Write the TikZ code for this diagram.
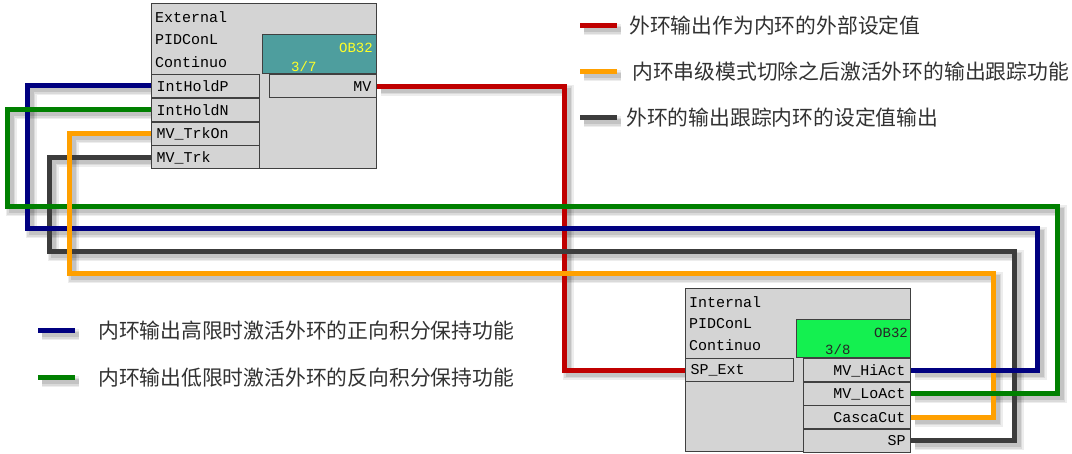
\documentclass[tikz,border=0pt]{standalone}
\usepackage{fontspec}
\newfontfamily\cjk{Noto Sans CJK SC}
\newfontfamily\monof{Liberation Mono}
\usetikzlibrary{calc}
\definecolor{boxgray}{RGB}{212,212,212}
\definecolor{frame}{RGB}{64,64,64}
\definecolor{teal1}{RGB}{78,158,158}
\definecolor{green1}{RGB}{20,240,80}
\definecolor{cred}{RGB}{192,0,0}
\definecolor{cblue}{RGB}{0,0,128}
\definecolor{cgreen}{RGB}{0,128,0}
\definecolor{corange}{RGB}{255,160,0}
\definecolor{cgrey}{RGB}{60,60,60}
\definecolor{ltext}{RGB}{50,50,50}
\definecolor{ylw}{RGB}{255,255,40}
\pgfdeclarelayer{background}
\pgfdeclarelayer{shadow}
\pgfsetlayers{shadow,background,main}
\begin{document}
\begin{tikzpicture}[x=1pt,y=-1pt,
  blk/.style={draw=frame,fill=boxgray,line width=1pt,inner sep=0pt},
  disp/.style={draw=frame,line width=1pt,inner sep=0pt,minimum width=114.5pt},
  port/.style={draw=frame,fill=boxgray,line width=1pt,inner xsep=5pt,inner ysep=0pt,
    minimum height=23pt,font=\monof\fontsize{15}{15}\selectfont,text=black},
  portL/.style={port,text width=98pt,align=left},
  portR/.style={port,text width=97.5pt,align=right},
  head/.style={anchor=west,inner sep=0pt,font=\monof\fontsize{15}{15}\selectfont,text=black},
  dtext/.style={inner sep=0pt,font=\monof\fontsize{14}{14}\selectfont},
  wire/.style={line width=5pt,line join=miter},
  shad/.style={draw=black,line join=miter,transform canvas={shift={(4,4)}},
    postaction={draw=black,opacity=0.07,line width=11pt},
    postaction={draw=black,opacity=0.08,line width=8pt},
    postaction={draw=black,opacity=0.10,line width=5pt},
    draw opacity=0, line width=1pt},
  legtext/.style={anchor=west,inner sep=0pt,font=\cjk\fontsize{20.8}{21}\selectfont,text=ltext}
]
\useasboundingbox (0,0) rectangle (1072,454);

% ---------- External block ----------
\node[blk,minimum width=225pt,minimum height=165pt] (ext) at (264,86.5) {};
\node[head] (exth1) at (155,17) {External};
\node[head] (exth2) at (155,40) {PIDConL};
\node[head] (exth3) at (155,62) {Continuo};
\node[disp,fill=teal1,minimum height=39pt] (extd) at (319.25,54.5) {};
\node[dtext,text=ylw,anchor=east] (extob) at (373,48) {OB32};
\node[dtext,text=ylw,anchor=west] (extn) at (291,66) {3/7};
\node[portL] (ihp) at (205.5,86) {IntHoldP};
\node[portL] (ihn) at (205.5,110) {IntHoldN};
\node[portL] (trkon) at (205.5,134) {MV\_TrkOn};
\node[portL] (trk) at (205.5,157.5) {MV\_Trk};
\node[portR] (mv) at (322.75,86.5) {MV};

% ---------- Internal block ----------
\node[blk,minimum width=225pt,minimum height=163pt] (int) at (798,370.5) {};
\node[head] (inth1) at (689,302) {Internal};
\node[head] (inth2) at (689,324) {PIDConL};
\node[head] (inth3) at (689,345) {Continuo};
\node[disp,fill=green1,minimum height=38pt] (intd) at (853.25,339) {};
\node[dtext,text=black!85,anchor=east] (intob) at (908,333) {OB32};
\node[dtext,text=black!85,anchor=west] (intn) at (825,349) {3/8};
\node[portL] (spext) at (739.5,370.5) {SP\_Ext};
\node[portR] (hi) at (856.75,370.5) {MV\_HiAct};
\node[portR] (lo) at (856.75,394) {MV\_LoAct};
\node[portR] (cut) at (856.75,417.5) {CascaCut};
\node[portR] (sp) at (856.75,441) {SP};

% ---------- corner coordinates ----------
\coordinate (r1) at (564,200);
\coordinate (bA) at (27,229);  \coordinate (bB) at (1037,229);
\coordinate (gA) at (7,207);   \coordinate (gB) at (1057,207);
\coordinate (oA) at (69,274);  \coordinate (oB) at (993,274);
\coordinate (kA) at (49,252);  \coordinate (kB) at (1014,252);

% legend coordinates
\coordinate (lr1) at (580,26);  \coordinate (lr2) at (617,26);
\coordinate (lo1) at (580,72);  \coordinate (lo2) at (617,72);
\coordinate (lk1) at (580,118); \coordinate (lk2) at (617,118);
\coordinate (lb1) at (38,331);  \coordinate (lb2) at (75,331);
\coordinate (lg1) at (38,378);  \coordinate (lg2) at (75,378);

% ---------- shadows ----------
\begin{pgfonlayer}{shadow}
\fill[white] (0,0) rectangle (1072,454);
\draw[shad] (mv.east) -| (r1) |- (spext.west);
\draw[shad] (trk.west) -| (kA) -- (kB) |- (sp.east);
\draw[shad] (trkon.west) -| (oA) -- (oB) |- (cut.east);
\draw[shad] (ihp.west) -| (bA) -- (bB) |- (hi.east);
\draw[shad] (ihn.west) -| (gA) -- (gB) |- (lo.east);
\draw[shad] (lr1) -- (lr2);
\draw[shad] (lo1) -- (lo2);
\draw[shad] (lk1) -- (lk2);
\draw[shad] (lb1) -- (lb2);
\draw[shad] (lg1) -- (lg2);
\end{pgfonlayer}

% ---------- connectors ----------
\begin{pgfonlayer}{background}
\draw[wire,cred] (mv.east) -| (r1) |- (spext.west);
\draw[wire,cgrey] (trk.west) -| (kA) -- (kB) |- (sp.east);
\draw[wire,corange] (trkon.west) -| (oA) -- (oB) |- (cut.east);
\draw[wire,cblue] (ihp.west) -| (bA) -- (bB) |- (hi.east);
\draw[wire,cgreen] (ihn.west) -| (gA) -- (gB) |- (lo.east);
\draw[wire,corange] (trkon.west -| oA) -- (oA);
\end{pgfonlayer}

% ---------- legend ----------
\draw[wire,cred] (lr1) -- (lr2);
\node[legtext] (ltr) at (629,26) {外环输出作为内环的外部设定值};
\draw[wire,corange] (lo1) -- (lo2);
\node[legtext] (lto) at (632,72) {内环串级模式切除之后激活外环的输出跟踪功能};
\draw[wire,cgrey] (lk1) -- (lk2);
\node[legtext] (ltk) at (626,118) {外环的输出跟踪内环的设定值输出};
\draw[wire,cblue] (lb1) -- (lb2);
\node[legtext] (ltb) at (98,331) {内环输出高限时激活外环的正向积分保持功能};
\draw[wire,cgreen] (lg1) -- (lg2);
\node[legtext] (ltg) at (98,378) {内环输出低限时激活外环的反向积分保持功能};
\end{tikzpicture}
\end{document}
